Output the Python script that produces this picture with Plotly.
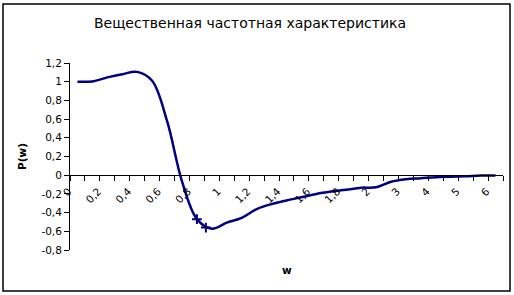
import plotly.graph_objects as go

# Categories (w) and values P(w)
w_labels = ["0", "0,1", "0,2", "0,3", "0,4", "0,5", "0,6", "0,7", "0,8", "0,9",
            "1", "1,1", "1,2", "1,3", "1,4", "1,5", "1,6", "1,7", "1,8", "1,9",
            "2", "2,5", "3", "3,5", "4", "4,5", "5", "5,5", "6"]
p_values = [1.0, 1.003, 1.046, 1.08, 1.105, 1.01, 0.58, -0.065, -0.47, -0.572,
            -0.508, -0.456, -0.363, -0.309, -0.27, -0.236, -0.20, -0.175, -0.156, -0.134,
            -0.129, -0.07, -0.043, -0.032, -0.021, -0.016, -0.011, -0.004, -0.002]

# two highlighted points (category position, value)
mark_pos = [8, 8.6]
mark_vals = [-0.47, -0.56]

y_tick_vals = [-0.8, -0.6, -0.4, -0.2, 0, 0.2, 0.4, 0.6, 0.8, 1.0, 1.2]
y_tick_text = ["-0,8", "-0,6", "-0,4", "-0,2", "0", "0,2", "0,4", "0,6", "0,8", "1", "1,2"]

title_text = "Вещественная частотная характеристика"
x_title = "w"
y_title = "P(w)"

idx = list(range(len(w_labels)))
label_idx = idx[::2]
label_text = [w_labels[i] for i in label_idx]

navy = "#000080"
fnt = "DejaVu Sans"

fig = go.Figure()
fig.add_trace(go.Scatter(x=idx, y=p_values, mode="lines",
                         line=dict(color=navy, width=2.5, shape="spline", smoothing=1),
                         showlegend=False, hoverinfo="skip"))
fig.add_trace(go.Scatter(x=mark_pos, y=mark_vals, mode="markers",
                         marker=dict(symbol="cross-thin", size=7,
                                     line=dict(color=navy, width=2)),
                         showlegend=False, hoverinfo="skip"))

W, H = 514, 295
L, R, T, B = 70, 11, 63, 45
pw, ph = W - L - R, H - T - B

def px_x(p):
    return (p - L) / pw

def px_y(p):
    return (H - B - p) / ph

ymin, ymax = -0.8, 1.2

fig.update_layout(
    width=W, height=H,
    margin=dict(l=L, r=R, t=T, b=B),
    paper_bgcolor="white", plot_bgcolor="white",
    font=dict(family=fnt, size=10.5, color="black"),
    title=dict(text=title_text, font=dict(family=fnt, size=14, color="black"),
               x=250 / W, xanchor="center", xref="container",
               y=1 - 23 / H, yanchor="middle", yref="container"),
    xaxis=dict(range=[-0.5, len(w_labels) - 0.5], anchor="free",
               position=(0 - ymin) / (ymax - ymin),
               showline=True, linecolor="black", linewidth=1,
               showgrid=False, zeroline=False,
               tickmode="array", tickvals=label_idx, ticktext=label_text,
               ticks="outside", ticklen=5, tickcolor="rgba(0,0,0,0)",
               tickangle=-45, ticklabelshift=-9,
               tickfont=dict(family=fnt, size=10.5, color="black"),
               minor=dict(tickmode="linear", tick0=-0.5, dtick=1,
                          ticks="outside", ticklen=5, tickwidth=1, tickcolor="black",
                          showgrid=False)),
    yaxis=dict(range=[ymin, ymax], showline=True, linecolor="black", linewidth=1,
               showgrid=False, zeroline=False,
               tickmode="array", tickvals=y_tick_vals, ticktext=y_tick_text,
               ticks="outside", ticklen=5, tickcolor="black",
               tickfont=dict(family=fnt, size=10.5, color="black"),
               title=dict(text=y_title, font=dict(family=fnt, size=10.5, color="black",
                                                  weight="bold"),
                          standoff=12)),
    annotations=[dict(text="<b>" + x_title + "</b>", xref="paper", yref="paper",
                      x=px_x(287), y=px_y(270), showarrow=False,
                      xanchor="center", yanchor="middle",
                      font=dict(family=fnt, size=10.5, color="black"))],
    shapes=[dict(type="rect", xref="paper", yref="paper",
                 x0=px_x(3), x1=px_x(510), y0=px_y(291), y1=px_y(4),
                 line=dict(color="black", width=1.5), fillcolor="rgba(0,0,0,0)",
                 layer="below")],
)

fig.write_html("out.html")
